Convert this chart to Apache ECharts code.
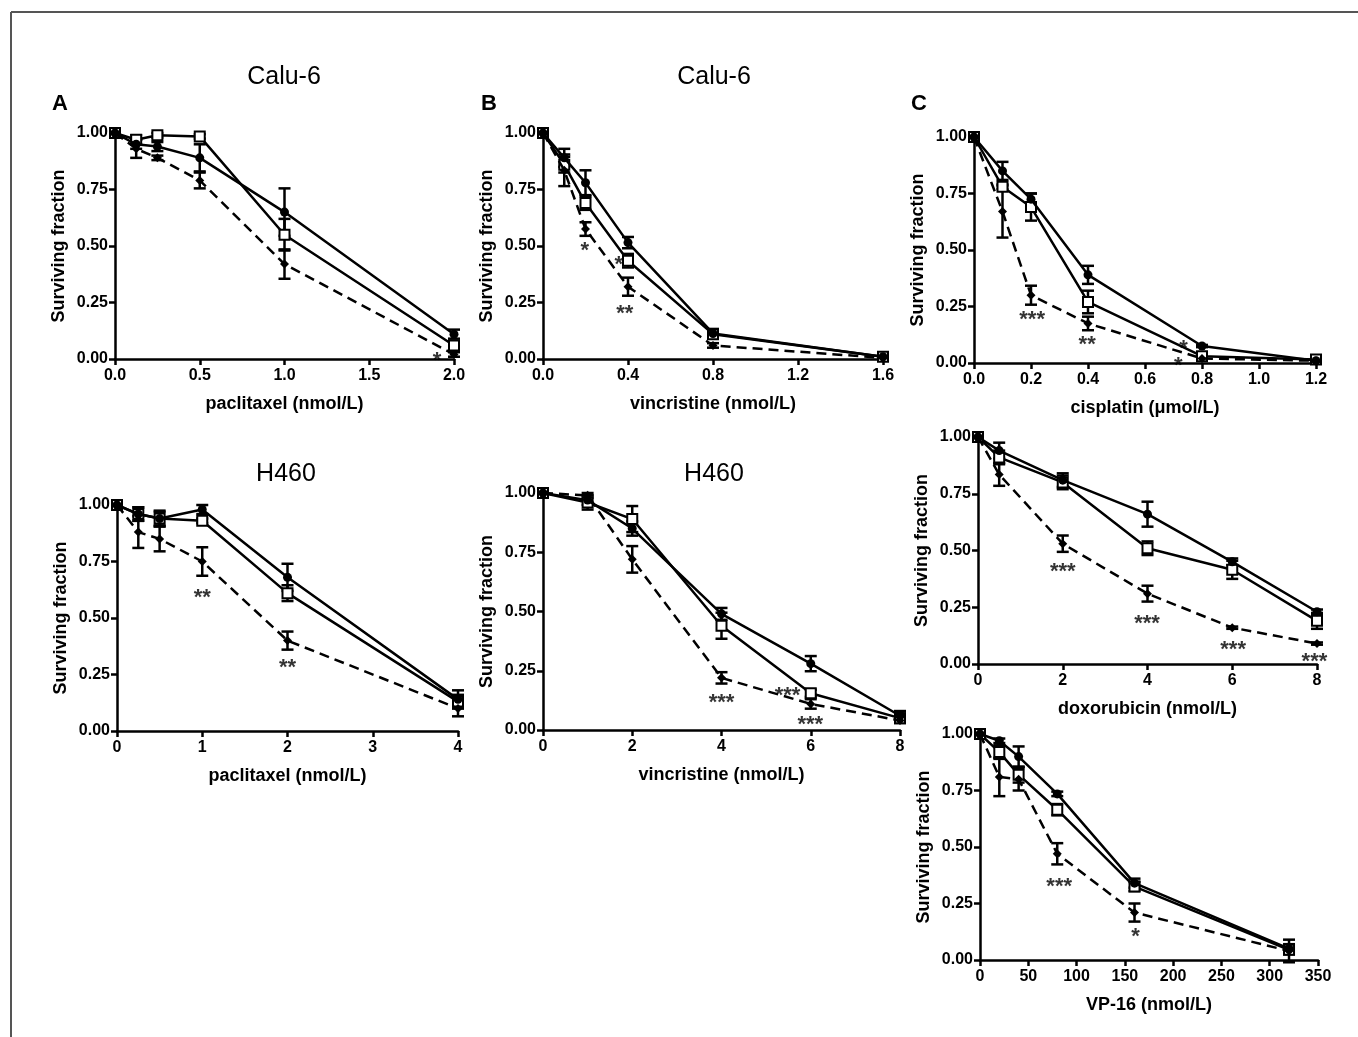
<!DOCTYPE html>
<html>
<head>
<meta charset="utf-8">
<script src="https://cdn.jsdelivr.net/npm/echarts@6/dist/echarts.min.js"></script>
<style>
  html, body { margin: 0; padding: 0; background: #fff; }
  #main { width: 1358px; height: 1037px; }
</style>
</head>
<body>
<div id="main"></div>
<script>
// ---- data ----
// A, Calu-6, paclitaxel
const aTopDose = [0, 0.125, 0.25, 0.5, 1, 2];
const aTopCircle = [1.00, 0.95, 0.94, 0.89, 0.65, 0.11];
const aTopCircleErr = [0, 0.02, 0.02, 0.06, 0.105, 0.02];
const aTopSquare = [1.00, 0.97, 0.99, 0.985, 0.55, 0.06];
const aTopSquareErr = [0, 0.02, 0.01, 0.01, 0.07, 0.02];
const aTopDiamond = [1.00, 0.93, 0.89, 0.79, 0.42, 0.02];
const aTopDiamondErr = [0, 0.04, 0.01, 0.035, 0.065, 0.01];
const aTopStars = [['*', 1.9, 0.018]];

// A, H460, paclitaxel
const aBotDose = [0, 0.25, 0.5, 1, 2, 4];
const aBotCircle = [1.00, 0.96, 0.94, 0.98, 0.68, 0.14];
const aBotCircleErr = [0, 0.03, 0.035, 0.02, 0.06, 0.04];
const aBotSquare = [1.00, 0.96, 0.94, 0.93, 0.61, 0.13];
const aBotSquareErr = [0, 0.03, 0.03, 0.01, 0.035, 0.03];
const aBotDiamond = [1.00, 0.88, 0.85, 0.75, 0.40, 0.10];
const aBotDiamondErr = [0, 0.07, 0.055, 0.063, 0.04, 0.035];
const aBotStars = [['**', 1.0, 0.616], ['**', 2.0, 0.306]];

// B, Calu-6, vincristine
const bTopDose = [0, 0.1, 0.2, 0.4, 0.8, 1.6];
const bTopCircle = [1.00, 0.89, 0.78, 0.515, 0.113, 0.01];
const bTopCircleErr = [0, 0.04, 0.055, 0.025, 0.02, 0.005];
const bTopSquare = [1.00, 0.86, 0.69, 0.435, 0.11, 0.01];
const bTopSquareErr = [0, 0.035, 0.03, 0.03, 0.02, 0.005];
const bTopDiamond = [1.00, 0.835, 0.575, 0.32, 0.06, 0.005];
const bTopDiamondErr = [0, 0.07, 0.03, 0.04, 0.01, 0];
const bTopStars = [['*', 0.197, 0.504], ['*', 0.357, 0.442], ['**', 0.385, 0.224]];

// B, H460, vincristine
const bBotDose = [0, 1, 2, 4, 6, 8];
const bBotCircle = [1.00, 0.97, 0.85, 0.49, 0.28, 0.06];
const bBotCircleErr = [0, 0.02, 0.03, 0.025, 0.032, 0.02];
const bBotSquare = [1.00, 0.96, 0.89, 0.44, 0.155, 0.05];
const bBotSquareErr = [0, 0.03, 0.055, 0.055, 0.015, 0.02];
const bBotDiamond = [1.00, 0.99, 0.72, 0.22, 0.11, 0.04];
const bBotDiamondErr = [0, 0.01, 0.056, 0.024, 0.02, 0.01];
const bBotStars = [['***', 4.0, 0.141], ['***', 5.48, 0.169], ['***', 5.99, 0.045]];

// C, cisplatin
const cTopDose = [0, 0.1, 0.2, 0.4, 0.8, 1.2];
const cTopCircle = [1.00, 0.85, 0.725, 0.39, 0.075, 0.01];
const cTopCircleErr = [0, 0.04, 0.025, 0.04, 0.005, 0.005];
const cTopSquare = [1.00, 0.78, 0.69, 0.27, 0.03, 0.015];
const cTopSquareErr = [0, 0.01, 0.06, 0.05, 0.005, 0.005];
const cTopDiamond = [1.00, 0.67, 0.30, 0.175, 0.02, 0.01];
const cTopDiamondErr = [0, 0.115, 0.042, 0.03, 0.005, 0];
const cTopStars = [['***', 0.204, 0.218], ['**', 0.397, 0.106], ['*', 0.735, 0.088], ['*', 0.717, 0.015]];

// C, doxorubicin
const cMidDose = [0, 0.5, 2, 4, 6, 8];
const cMidCircle = [1.00, 0.94, 0.81, 0.66, 0.45, 0.23];
const cMidCircleErr = [0, 0.035, 0.03, 0.055, 0.015, 0.01];
const cMidSquare = [1.00, 0.91, 0.80, 0.51, 0.415, 0.19];
const cMidSquareErr = [0, 0.03, 0.03, 0.03, 0.04, 0.035];
const cMidDiamond = [1.00, 0.835, 0.53, 0.31, 0.16, 0.09];
const cMidDiamondErr = [0, 0.05, 0.036, 0.035, 0.005, 0.005];
const cMidStars = [['***', 2.0, 0.433], ['***', 3.99, 0.203], ['***', 6.02, 0.09], ['***', 7.94, 0.037]];

// C, VP-16
const cBotDose = [0, 20, 40, 80, 160, 320];
const cBotCircle = [1.00, 0.97, 0.90, 0.735, 0.34, 0.05];
const cBotCircleErr = [0, 0.01, 0.045, 0.01, 0.02, 0.02];
const cBotSquare = [1.00, 0.92, 0.82, 0.665, 0.325, 0.045];
const cBotSquareErr = [0, 0.03, 0.035, 0.025, 0.02, 0.02];
const cBotDiamond = [1.00, 0.81, 0.80, 0.47, 0.21, 0.04];
const cBotDiamondErr = [0, 0.085, 0.05, 0.047, 0.04, 0.05];
const cBotStars = [['***', 82, 0.351], ['*', 161, 0.13]];

const yTicks = [0, 0.25, 0.5, 0.75, 1];

// panel layout: grid box + x axis range
const panels = [
  { left: 115, top: 133, width: 339, height: 226, xMax: 2, xStep: 0.5, dec: 1, xName: 'paclitaxel (nmol/L)',
    dose: aTopDose, c: aTopCircle, ce: aTopCircleErr, s: aTopSquare, se: aTopSquareErr, d: aTopDiamond, de: aTopDiamondErr, stars: aTopStars },
  { left: 117, top: 505, width: 341, height: 226, xMax: 4, xStep: 1, dec: 0, xName: 'paclitaxel (nmol/L)',
    dose: aBotDose, c: aBotCircle, ce: aBotCircleErr, s: aBotSquare, se: aBotSquareErr, d: aBotDiamond, de: aBotDiamondErr, stars: aBotStars },
  { left: 543, top: 133, width: 340, height: 226, xMax: 1.6, xStep: 0.4, dec: 1, xName: 'vincristine (nmol/L)',
    dose: bTopDose, c: bTopCircle, ce: bTopCircleErr, s: bTopSquare, se: bTopSquareErr, d: bTopDiamond, de: bTopDiamondErr, stars: bTopStars },
  { left: 543, top: 493, width: 357, height: 237, xMax: 8, xStep: 2, dec: 0, xName: 'vincristine (nmol/L)',
    dose: bBotDose, c: bBotCircle, ce: bBotCircleErr, s: bBotSquare, se: bBotSquareErr, d: bBotDiamond, de: bBotDiamondErr, stars: bBotStars },
  { left: 974, top: 137, width: 342, height: 226, xMax: 1.2, xStep: 0.2, dec: 1, xName: 'cisplatin (μmol/L)',
    dose: cTopDose, c: cTopCircle, ce: cTopCircleErr, s: cTopSquare, se: cTopSquareErr, d: cTopDiamond, de: cTopDiamondErr, stars: cTopStars },
  { left: 978, top: 437, width: 339, height: 227, xMax: 8, xStep: 2, dec: 0, xName: 'doxorubicin (nmol/L)',
    dose: cMidDose, c: cMidCircle, ce: cMidCircleErr, s: cMidSquare, se: cMidSquareErr, d: cMidDiamond, de: cMidDiamondErr, stars: cMidStars },
  { left: 980, top: 734, width: 338, height: 226, xMax: 350, xStep: 50, dec: 0, xName: 'VP-16 (nmol/L)',
    dose: cBotDose, c: cBotCircle, ce: cBotCircleErr, s: cBotSquare, se: cBotSquareErr, d: cBotDiamond, de: cBotDiamondErr, stars: cBotStars }
];

const FONT = '"Liberation Sans", Arial, Helvetica, sans-serif';
const axisLineStyle = { color: '#000', width: 2.5 };

const grids = [], xAxes = [], yAxes = [], series = [];

// error bars: vertical line + two caps
const errorBarRender = (params, api) => {
  const x = api.value(0);
  const lo = api.coord([x, api.value(1)]);
  const hi = api.coord([x, api.value(2)]);
  const cap = 6;
  const st = { stroke: '#000', lineWidth: 2.5 };
  return {
    type: 'group',
    children: [
      { type: 'line', shape: { x1: lo[0], y1: lo[1], x2: hi[0], y2: hi[1] }, style: st },
      { type: 'line', shape: { x1: lo[0] - cap, y1: lo[1], x2: lo[0] + cap, y2: lo[1] }, style: st },
      { type: 'line', shape: { x1: hi[0] - cap, y1: hi[1], x2: hi[0] + cap, y2: hi[1] }, style: st }
    ]
  };
};

const errData = (dose, vals, errs) =>
  dose.map((x, i) => [x, vals[i] - errs[i], vals[i] + errs[i], errs[i]]).filter(r => r[3] > 0);

panels.forEach((p, i) => {
  grids.push({ left: p.left, top: p.top, width: p.width, height: p.height, containLabel: false });
  xAxes.push({
    type: 'value', gridIndex: i, min: 0, max: p.xMax, interval: p.xStep,
    name: p.xName, nameLocation: 'middle', nameGap: 36,
    nameTextStyle: { fontFamily: FONT, fontWeight: 'bold', fontSize: 18, color: '#000' },
    axisLine: { show: true, onZero: false, lineStyle: axisLineStyle },
    axisTick: { show: true, length: 6, lineStyle: axisLineStyle },
    axisLabel: { fontFamily: FONT, fontWeight: 'bold', fontSize: 16, color: '#000', margin: 9,
      formatter: v => Number(v).toFixed(p.dec) },
    splitLine: { show: false }
  });
  yAxes.push({
    type: 'value', gridIndex: i, min: 0, max: 1, interval: 0.25,
    name: 'Surviving fraction', nameLocation: 'middle', nameGap: 47,
    nameTextStyle: { fontFamily: FONT, fontWeight: 'bold', fontSize: 18, color: '#000' },
    axisLine: { show: true, onZero: false, lineStyle: axisLineStyle },
    axisTick: { show: true, length: 6, lineStyle: axisLineStyle },
    axisLabel: { fontFamily: FONT, fontWeight: 'bold', fontSize: 16, color: '#000', margin: 7,
      formatter: v => yTicks.includes(v) ? v.toFixed(2) : '' },
    splitLine: { show: false }
  });

  const pts = vals => p.dose.map((x, k) => [x, vals[k]]);

  [[p.c, p.ce], [p.s, p.se], [p.d, p.de]].forEach(([v, e]) => {
    series.push({
      type: 'custom', xAxisIndex: i, yAxisIndex: i, renderItem: errorBarRender,
      data: errData(p.dose, v, e), encode: { x: 0, y: [1, 2] }, clip: false, z: 2, silent: true
    });
  });

  // open squares sit under the filled marks, so shared points read as solid
  series.push({
    name: 'square', type: 'line', xAxisIndex: i, yAxisIndex: i, data: pts(p.s),
    symbol: 'rect', symbolSize: 10, showSymbol: true,
    lineStyle: { color: '#000', width: 2.5 },
    itemStyle: { color: '#fff', borderColor: '#000', borderWidth: 2 }, z: 3
  });
  series.push({
    name: 'circle', type: 'line', xAxisIndex: i, yAxisIndex: i, data: pts(p.c),
    symbol: 'circle', symbolSize: 9, showSymbol: true,
    lineStyle: { color: '#000', width: 2.5 }, itemStyle: { color: '#000' }, z: 4
  });
  series.push({
    name: 'diamond', type: 'line', xAxisIndex: i, yAxisIndex: i, data: pts(p.d),
    symbol: 'diamond', symbolSize: 9, showSymbol: true,
    lineStyle: { color: '#000', width: 2.5, type: [10, 6] }, itemStyle: { color: '#000' }, z: 4
  });
  // significance stars
  series.push({
    type: 'scatter', xAxisIndex: i, yAxisIndex: i, symbolSize: 0, silent: true, z: 5,
    data: p.stars.map(s => ({ name: s[0], value: [s[1], s[2]] })),
    label: { show: true, position: 'inside', formatter: '{b}', offset: [0, 6],
      fontFamily: FONT, fontWeight: 'bold', fontSize: 22, color: '#000' }
  });
});

const txt = (text, x, y, size, weight) => ({
  type: 'text', x: x, y: y, silent: true,
  style: { text: text, fill: '#000', font: `${weight} ${size}px ${FONT}`, align: 'center', verticalAlign: 'middle' }
});

const chart = echarts.init(document.getElementById('main'));
chart.setOption({
  animation: false,
  backgroundColor: '#fff',
  grid: grids,
  xAxis: xAxes,
  yAxis: yAxes,
  series: series,
  graphic: [
    { type: 'line', shape: { x1: 11, y1: 12, x2: 1358, y2: 12 }, style: { stroke: '#555', lineWidth: 2 } },
    { type: 'line', shape: { x1: 11, y1: 12, x2: 11, y2: 1037 }, style: { stroke: '#555', lineWidth: 2 } },
    txt('Calu-6', 284, 77, 25, 'normal'),
    txt('Calu-6', 714, 77, 25, 'normal'),
    txt('H460', 286, 474, 25, 'normal'),
    txt('H460', 714, 474, 25, 'normal'),
    txt('A', 60, 104, 22, 'bold'),
    txt('B', 489, 104, 22, 'bold'),
    txt('C', 919, 104, 22, 'bold')
  ]
});
</script>
</body>
</html>
